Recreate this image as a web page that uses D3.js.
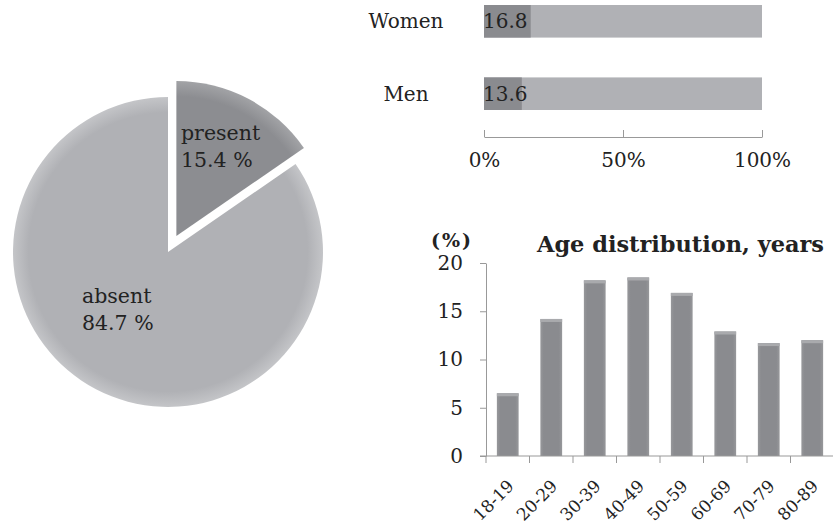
<!DOCTYPE html>
<html>
<head>
<meta charset="utf-8">
<script src="https://cdn.jsdelivr.net/npm/d3@7"></script>
<style>
  body { margin: 0; background: #fff; }
  svg text { font-family: "DejaVu Serif", serif; fill: #222; }
</style>
</head>
<body>
<svg id="chart" width="833" height="530"></svg>
<script>
// pie: presence share
var pieLabels = ["present", "absent"];
var pieValues = [15.4, 84.7];

// horizontal bars by sex (% present)
var sexCats = ["Women", "Men"];
var sexValues = [16.8, 13.6];
var sexTicks = [0, 50, 100];

// age distribution, %
var ageCats = ["18-19", "20-29", "30-39", "40-49", "50-59", "60-69", "70-79", "80-89"];
var ageValues = [6.5, 14.2, 18.2, 18.5, 16.9, 12.9, 11.7, 12.0];
var ageTicks = [0, 5, 10, 15, 20];

var svg = d3.select("#chart");
var defs = svg.append("defs");

// soft shading like the original office chart
function radial(id, inner, outer) {
    var g = defs.append("radialGradient").attr("id", id)
        .attr("gradientUnits", "userSpaceOnUse")
        .attr("cx", 0).attr("cy", 0).attr("r", 155);
    g.append("stop").attr("offset", "0.9").attr("stop-color", inner);
    g.append("stop").attr("offset", "1").attr("stop-color", outer);
}
radial("gAbsent", "#b0b1b5", "#c4c5c8");
radial("gPresent", "#8c8d91", "#a2a3a6");

var bg = defs.append("linearGradient").attr("id", "gBar").attr("x1", 0).attr("x2", 1);
bg.append("stop").attr("offset", "0").attr("stop-color", "#97989b");
bg.append("stop").attr("offset", "0.15").attr("stop-color", "#8a8b8f");
bg.append("stop").attr("offset", "0.85").attr("stop-color", "#8a8b8f");
bg.append("stop").attr("offset", "1").attr("stop-color", "#97989b");

// ---------- pie ----------
var pieCx = 168, pieCy = 252, radius = 155, explode = 18;
var pie = d3.pie().sort(null).value(function(d) { return d; });
var arc = d3.arc().innerRadius(0).outerRadius(radius);
var arcs = pie(pieValues);

var pg = svg.append("g").attr("transform", "translate(" + pieCx + "," + pieCy + ")");
var slice = pg.selectAll(".slice").data(arcs).enter().append("g")
    .attr("class", "slice")
    .attr("transform", function(d, i) {
        if (i != 0) return null;
        var a = (d.startAngle + d.endAngle) / 2;
        return "translate(" + (Math.sin(a) * explode) + "," + (-Math.cos(a) * explode) + ")";
    });
slice.append("path")
    .attr("d", arc)
    .attr("fill", function(d, i) { return i == 0 ? "url(#gPresent)" : "url(#gAbsent)"; });

var pieLabelPos = [[181, 140], [82, 303]];
pieLabelPos.forEach(function(p, i) {
    var t = svg.append("text").attr("x", p[0]).attr("y", p[1]).style("font-size", "20.5px");
    t.append("tspan").attr("x", p[0]).text(pieLabels[i]);
    t.append("tspan").attr("x", p[0]).attr("dy", 27).text(pieValues[i].toFixed(1) + " %");
});

// ---------- sex bars ----------
var sx = d3.scaleLinear().domain([0, 100]).range([484, 762]);
var sy = d3.scaleBand().domain(sexCats).range([5, 110]).paddingInner(0.55).paddingOuter(0);

var sg = svg.append("g");
sg.selectAll(".full").data(sexCats).enter().append("rect")
    .attr("x", sx(0)).attr("y", function(d) { return sy(d); })
    .attr("width", sx(100) - sx(0)).attr("height", sy.bandwidth())
    .attr("fill", "#b0b1b5");
sg.selectAll(".part").data(sexValues).enter().append("rect")
    .attr("x", sx(0)).attr("y", function(d, i) { return sy(sexCats[i]); })
    .attr("width", function(d) { return sx(d) - sx(0); }).attr("height", sy.bandwidth())
    .attr("fill", "#8a8b8f");
sg.selectAll(".val").data(sexValues).enter().append("text")
    .attr("x", function(d) { return sx(0) - 1; })
    .attr("y", function(d, i) { return sy(sexCats[i]) + sy.bandwidth() / 2; })
    .attr("dy", "0.36em")
    .style("font-size", "20px")
    .text(function(d) { return d.toFixed(1); });
sg.selectAll(".cat").data(sexCats).enter().append("text")
    .attr("x", 406)
    .attr("y", function(d) { return sy(d) + sy.bandwidth() / 2; })
    .attr("dy", "0.36em")
    .attr("text-anchor", "middle")
    .style("font-size", "20px")
    .text(function(d) { return d; });

var sAxis = svg.append("g").attr("transform", "translate(0,137)")
    .call(d3.axisBottom(sx).tickValues(sexTicks).tickSize(-7).tickSizeOuter(0).tickPadding(16)
        .tickFormat(function(d) { return d + "%"; }));
sAxis.selectAll("path, line").attr("stroke", "#999");
sAxis.selectAll("text").style("font-size", "20px").style("font-family", "DejaVu Serif, serif").attr("fill", "#222");

// ---------- age distribution ----------
var ax = d3.scaleBand().domain(ageCats).range([486, 834]).paddingInner(0.5).paddingOuter(0.25);
var ay = d3.scaleLinear().domain([0, 20]).range([456, 263]);

var ag = svg.append("g");
ag.selectAll(".bar").data(ageValues).enter().append("rect")
    .attr("x", function(d, i) { return ax(ageCats[i]); })
    .attr("y", function(d) { return ay(d); })
    .attr("width", ax.bandwidth())
    .attr("height", function(d) { return ay(0) - ay(d); })
    .attr("fill", "url(#gBar)");
ag.selectAll(".cap").data(ageValues).enter().append("rect")
    .attr("x", function(d, i) { return ax(ageCats[i]); })
    .attr("y", function(d) { return ay(d); })
    .attr("width", ax.bandwidth())
    .attr("height", 3)
    .attr("fill", "#a9aaad");

var yAxis = svg.append("g").attr("transform", "translate(486,0)")
    .call(d3.axisLeft(ay).tickValues(ageTicks).tickSize(6).tickSizeOuter(0).tickPadding(17));
yAxis.selectAll("path, line").attr("stroke", "#999");
yAxis.selectAll("text").style("font-size", "20px").style("font-family", "DejaVu Serif, serif").attr("fill", "#222");

// x axis line + ticks at category boundaries
svg.append("line").attr("x1", 480).attr("x2", 833).attr("y1", ay(0)).attr("y2", ay(0)).attr("stroke", "#999");
svg.selectAll(".xtick").data(ageCats).enter().append("line")
    .attr("x1", function(d) { return ax(d) - ax.step() * ax.paddingInner() / 2; })
    .attr("x2", function(d) { return ax(d) - ax.step() * ax.paddingInner() / 2; })
    .attr("y1", ay(0)).attr("y2", ay(0) + 7)
    .attr("stroke", "#999");
svg.selectAll(".xlab").data(ageCats).enter().append("text")
    .attr("transform", function(d) {
        return "translate(" + (ax(d) + ax.bandwidth() / 2 + 3) + "," + (ay(0) + 27) + ") rotate(-45)";
    })
    .attr("text-anchor", "end")
    .attr("dy", "0.35em")
    .style("font-size", "17px")
    .text(function(d) { return d; });

svg.append("text").attr("x", 431).attr("y", 247)
    .style("font-size", "19px").style("font-weight", "bold")
    .style("letter-spacing", "2px")
    .text("(%)");
svg.append("text").attr("x", 537).attr("y", 252)
    .style("font-size", "22px").style("font-weight", "bold")
    .attr("textLength", 287).attr("lengthAdjust", "spacingAndGlyphs")
    .text("Age distribution, years");
</script>
</body>
</html>
